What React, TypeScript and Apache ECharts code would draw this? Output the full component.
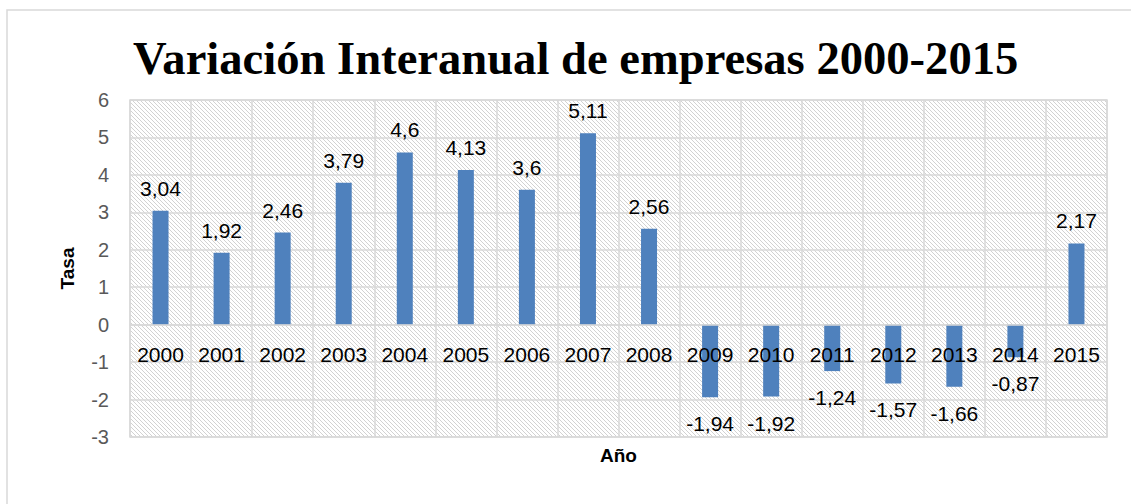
import React, { useEffect, useRef } from "react";
import * as echarts from "echarts";

const years = ["2000", "2001", "2002", "2003", "2004", "2005", "2006", "2007", "2008", "2009", "2010", "2011", "2012", "2013", "2014", "2015"];
const tasa = [3.04, 1.92, 2.46, 3.79, 4.6, 4.13, 3.6, 5.11, 2.56, -1.94, -1.92, -1.24, -1.57, -1.66, -0.87, 2.17];
const yMin = -3;
const yMax = 6;
const titleText = "Variación Interanual de empresas 2000-2015";
const yName = "Tasa";
const xName = "Año";

const hatchSvg =
  '<svg xmlns="http://www.w3.org/2000/svg" width="4" height="4">' +
  '<rect width="4" height="4" fill="#ffffff"/>' +
  '<path d="M-1,-1 L5,5 M-1,3 L1,5 M3,-1 L5,1" stroke="#d2d2d2" stroke-width="1"/>' +
  "</svg>";
const hatchUrl = "data:image/svg+xml;utf8," + encodeURIComponent(hatchSvg);

const GRID_TOP = 100;
const GRID_BOTTOM = 67;
const HEIGHT = 504;

export default function App() {
  const ref = useRef<HTMLDivElement>(null);
  useEffect(() => {
    document.body.style.margin = "0";
    const chart = echarts.init(ref.current!, null, { renderer: "svg" });
    const grid = "#d9d9d9";
    // distance from the bottom of the plot to the zero line, so that the category axis sits on zero
    const plotH = HEIGHT - GRID_TOP - GRID_BOTTOM;
    const zeroShift = (plotH * (0 - yMin)) / (yMax - yMin);
    chart.setOption({
      animation: false,
      backgroundColor: "#ffffff",
      textStyle: { fontFamily: "Liberation Sans" },
      title: {
        text: titleText,
        left: 133,
        top: 34,
        padding: 0,
        textStyle: { fontFamily: "Liberation Serif", fontWeight: "bold", fontSize: 46.6, color: "#000000" },
      },
      graphic: [
        {
          type: "rect",
          z: -10,
          shape: { x: 7, y: 10, width: 1300, height: 700 },
          style: { fill: "none", stroke: grid, lineWidth: 1.5 },
          silent: true,
        },
      ],
      grid: {
        left: 130,
        right: 24,
        top: GRID_TOP,
        bottom: GRID_BOTTOM,
        outerBoundsMode: "none",
        containLabel: false,
        show: true,
        backgroundColor: { image: hatchUrl, repeat: "repeat", imageWidth: 4, imageHeight: 4 },
        borderColor: grid,
        borderWidth: 1.5,
      },
      xAxis: {
        type: "category",
        data: years,
        z: 5,
        offset: -zeroShift,
        name: xName,
        nameLocation: "middle",
        nameGap: 121,
        nameTextStyle: { fontWeight: "bold", fontSize: 19, color: "#000000" },
        axisLine: { onZero: false, lineStyle: { color: grid, width: 1.5 } },
        axisTick: { show: false },
        axisLabel: { interval: 0, color: "#000000", fontSize: 21, margin: 19 },
        splitLine: { show: true, interval: 0, lineStyle: { color: grid, width: 1.5 } },
      },
      yAxis: {
        type: "value",
        min: yMin,
        max: yMax,
        interval: 1,
        name: yName,
        nameLocation: "middle",
        nameGap: 53,
        nameTextStyle: { fontWeight: "bold", fontSize: 19, color: "#000000" },
        axisLine: { show: false },
        axisTick: { show: false },
        axisLabel: { color: "#595959", fontSize: 20, margin: 21 },
        splitLine: { show: true, lineStyle: { color: grid, width: 1.5 } },
      },
      series: [
        {
          type: "bar",
          barWidth: 16,
          itemStyle: { color: "#4F81BD" },
          data: tasa.map((v) => ({
            value: v,
            label: { position: v >= 0 ? "top" : "bottom", distance: v >= 0 ? 12 : 16 },
          })),
          label: {
            show: true,
            color: "#000000",
            fontSize: 21,
            formatter: (p: any) => String(p.value).replace(".", ","),
          },
        },
      ],
    });
    return () => chart.dispose();
  }, []);
  return <div ref={ref} style={{ position: "fixed", left: 0, top: 0, width: 1131, height: 504 }} />;
}
